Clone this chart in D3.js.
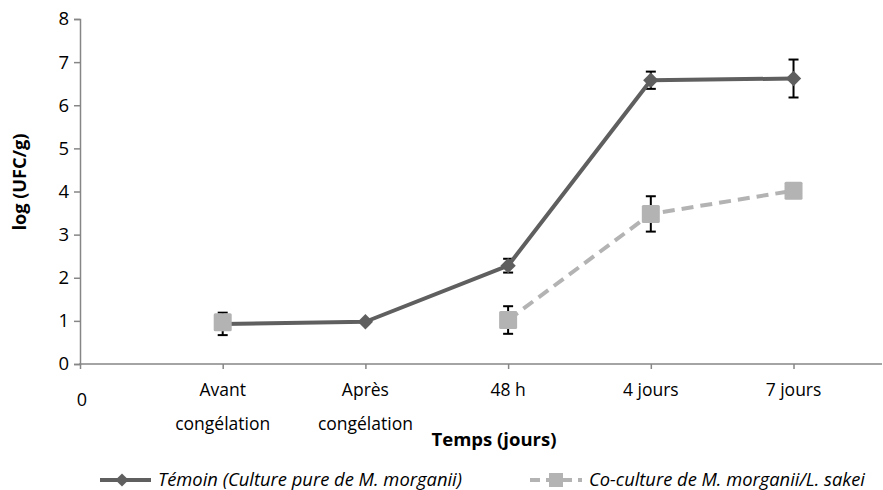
<!DOCTYPE html>
<html><head><meta charset="utf-8">
<script src="https://cdn.jsdelivr.net/npm/d3@7"></script>
<style>body{margin:0;background:#fff}svg{display:block}text{font-family:"Open Sans",sans-serif;fill:#000}</style>
</head><body><svg id="c" width="883" height="490"></svg>
<script>
const xPositions = [0, 1, 2, 3, 4, 5];
const tickLabels = [["0"], ["Avant", "congélation"], ["Après", "congélation"], ["48 h"], ["4 jours"], ["7 jours"]];
const temoinX = [1, 2, 3, 4, 5];
const temoinY = [0.93, 0.98, 2.28, 6.58, 6.62];
const temoinErr = [0.26, 0, 0.16, 0.2, 0.44];
const cocultX = [1, 3, 4, 5];
const cocultY = [0.97, 1.02, 3.48, 4.02];
const cocultErr = [0, 0.32, 0.41, 0];
const cocultSegments = [[1], [3, 4, 5]];
const yTicks = [0, 1, 2, 3, 4, 5, 6, 7, 8];
const seriesNames = ["Témoin (Culture pure de M. morganii)", "Co-culture de M. morganii/L. sakei"];

const svg = d3.select("#c");
const x = d3.scaleLinear().domain([0, 5.62]).range([80, 882]);
const y = d3.scaleLinear().domain([0, 8]).range([364, 19]);
const axisCol = "#868686";

// Y axis
const ya = svg.append("g").attr("transform", "translate(80,0)")
  .call(d3.axisLeft(y).tickValues(yTicks).tickSize(6).tickPadding(5).tickFormat(d3.format("d")));
ya.select(".domain").attr("stroke", axisCol).attr("stroke-width", 1.5);
ya.selectAll(".tick line").attr("stroke", axisCol).attr("stroke-width", 1.5);
ya.selectAll(".tick text").attr("font-size", 18.5).attr("font-family", "Open Sans").attr("fill", "#000");

// X axis
const xa = svg.append("g").attr("transform", "translate(0,364)")
  .call(d3.axisBottom(x).tickValues(xPositions).tickSize(5).tickFormat(""));
xa.select(".domain").attr("stroke", axisCol).attr("stroke-width", 1.5).attr("d", `M${x(0)},0.5V0H${x(5.62)}`);
xa.selectAll(".tick line").attr("stroke", axisCol).attr("stroke-width", 1.5);
const tl = svg.append("g");
xPositions.forEach((p, i) => {
  const lines = tickLabels[i];
  if (i === 0) {
    tl.append("text").attr("x", x(p) + 2).attr("y", 406).attr("text-anchor", "middle").attr("font-size", 18).text(lines[0]);
  } else {
    lines.forEach((s, j) => {
      tl.append("text").attr("x", x(p)).attr("y", 396 + j * 34).attr("text-anchor", "middle").attr("font-size", 17.5).text(s);
    });
  }
});

// Axis titles
svg.append("text").attr("x", 494).attr("y", 446).attr("text-anchor", "middle")
  .attr("font-size", 18.5).attr("font-weight", "bold").text("Temps (jours)");
svg.append("text").attr("transform", "translate(26,182) rotate(-90)").attr("text-anchor", "middle")
  .attr("font-size", 18).attr("font-weight", "bold")
  .attr("textLength", 97).attr("lengthAdjust", "spacingAndGlyphs").text("log (UFC/g)");

const dark = "#5f5f5f", light = "#b3b3b3";

function errBars(xs, ys, es) {
  const g = svg.append("g").attr("stroke", "#000").attr("stroke-width", 2);
  xs.forEach((xv, i) => {
    if (!es[i]) return;
    const cx = x(xv), t = y(ys[i] + es[i]), b = y(ys[i] - es[i]);
    g.append("line").attr("x1", cx).attr("x2", cx).attr("y1", t).attr("y2", b);
    g.append("line").attr("x1", cx - 5).attr("x2", cx + 5).attr("y1", t).attr("y2", t);
    g.append("line").attr("x1", cx - 5).attr("x2", cx + 5).attr("y1", b).attr("y2", b);
  });
}
const line = d3.line().x(d => x(d[0])).y(d => y(d[1]));

// Témoin
errBars(temoinX, temoinY, temoinErr);
svg.append("path").datum(temoinX.map((v, i) => [v, temoinY[i]]))
  .attr("d", line).attr("fill", "none").attr("stroke", dark).attr("stroke-width", 4).attr("stroke-linejoin", "round");
const diamond = d3.symbol().type(d3.symbolDiamond2).size(150);
svg.append("g").selectAll("path").data(temoinX.map((v, i) => [v, temoinY[i]])).join("path")
  .attr("transform", d => `translate(${x(d[0])},${y(d[1])})`).attr("d", diamond).attr("fill", dark);

// Co-culture
errBars(cocultX, cocultY, cocultErr);
cocultSegments.forEach(seg => {
  if (seg.length < 2) return;
  svg.append("path").datum(seg.map(v => [v, cocultY[cocultX.indexOf(v)]]))
    .attr("d", line).attr("fill", "none").attr("stroke", light).attr("stroke-width", 4).attr("stroke-dasharray", "12,7");
});
svg.append("g").selectAll("rect").data(cocultX.map((v, i) => [v, cocultY[i]])).join("rect")
  .attr("x", d => x(d[0]) - 9).attr("y", d => y(d[1]) - 9).attr("width", 18).attr("height", 18).attr("rx", 1.5)
  .attr("fill", light);

// Legend
const ly = 480;
const lg = svg.append("g");
lg.append("line").attr("x1", 100).attr("x2", 151).attr("y1", ly).attr("y2", ly).attr("stroke", dark).attr("stroke-width", 4);
lg.append("path").attr("transform", `translate(122,${ly})`).attr("d", d3.symbol().type(d3.symbolDiamond2).size(110)).attr("fill", dark);
lg.append("text").attr("x", 158).attr("y", ly + 6).attr("font-size", 17.5).attr("font-style", "italic")
  .attr("textLength", 304).attr("lengthAdjust", "spacingAndGlyphs").text(seriesNames[0]);
lg.append("line").attr("x1", 530).attr("x2", 582).attr("y1", ly).attr("y2", ly).attr("stroke", light).attr("stroke-width", 4).attr("stroke-dasharray", "10,6");
lg.append("rect").attr("x", 549).attr("y", ly - 7).attr("width", 14).attr("height", 14).attr("fill", light);
lg.append("text").attr("x", 589).attr("y", ly + 6).attr("font-size", 17.5).attr("font-style", "italic")
  .attr("textLength", 276).attr("lengthAdjust", "spacingAndGlyphs").text(seriesNames[1]);
</script></body></html>
